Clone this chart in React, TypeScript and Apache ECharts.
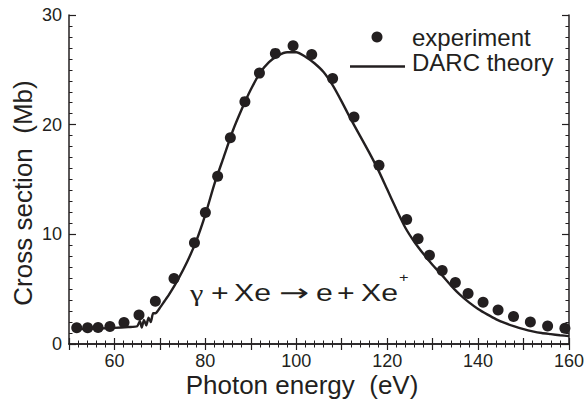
import React, { useEffect, useRef } from "react";
import * as echarts from "echarts";

// Experimental points (photon energy eV, cross section Mb)
const expEnergy = [51.7, 54.1, 56.4, 59.0, 62.1, 65.4, 69.0, 73.1, 77.6, 80.0, 82.7, 85.5, 88.7, 91.9, 95.4, 99.3, 103.4, 108.0, 112.7, 118.2, 124.3, 126.8, 129.3, 132.1, 135.0, 137.8, 141.1, 144.4, 147.8, 151.5, 155.3, 159.1];
const expCross = [1.48, 1.48, 1.5, 1.6, 1.97, 2.64, 3.9, 5.97, 9.24, 12.0, 15.3, 18.8, 22.1, 24.7, 26.5, 27.2, 26.4, 24.2, 20.7, 16.3, 11.36, 9.6, 8.1, 6.7, 5.6, 4.6, 3.8, 3.1, 2.5, 2.0, 1.64, 1.43];

// DARC theory curve
const thEnergy = [51, 54, 57, 60, 63, 65, 65.6, 66.0, 66.5, 67.0, 67.5, 68.0, 68.5, 69, 70, 71, 72, 74, 76, 78, 80, 82, 84, 86, 88, 90, 92, 94, 96, 98, 100, 102, 104, 106, 108, 110, 112, 114, 116, 118, 120, 122, 124, 126, 128, 130, 132, 134, 136, 138, 140, 142, 144, 146, 148, 150, 152, 154, 156, 158, 160];
const thCross = [1.35, 1.38, 1.42, 1.47, 1.55, 1.62, 2.1, 1.5, 2.2, 1.7, 2.4, 2.0, 2.8, 2.8, 3.3, 3.9, 4.5, 5.9, 7.5, 9.4, 11.8, 14.6, 17.0, 19.4, 21.4, 23.2, 24.7, 25.7, 26.3, 26.6, 26.6, 26.2, 25.6, 24.8, 23.6, 22.1, 20.5, 19.0, 17.5, 15.9, 14.1, 12.3, 10.6, 9.3, 8.2, 7.2, 6.3, 5.35, 4.5, 3.8, 3.2, 2.7, 2.25, 1.9, 1.6, 1.35, 1.15, 1.0, 0.9, 0.8, 0.72];

const xMin = 50;
const xMax = 160;
const yMin = 0;
const yMax = 30;

const seriesNames = ["experiment", "DARC theory"];
const xTitle = "Photon energy  (eV)";
const yTitle = "Cross section  (Mb)";

// reaction annotation: γ + Xe → e + Xe⁺
const reactionParts = ["γ", "+", "Xe", "→", "e", "+", "Xe"];
const reactionSup = "+";

const INK = "#231f20";
const SANS = "'Liberation Sans', Arial, sans-serif";
const SERIF = "'Liberation Serif', 'Times New Roman', serif";
const ARROWFONT = "'DejaVu Sans', sans-serif";

export default function App() {
  const ref = useRef<HTMLDivElement>(null);

  useEffect(() => {
    if (!ref.current) return;
    const chart = echarts.init(ref.current, undefined, { renderer: "svg" });

    const axisLine = { show: true, lineStyle: { color: INK, width: 1.5 } };
    const tickCommon = { show: true, inside: true, lineStyle: { color: INK, width: 1.2 } };

    const partX = [190, 211, 234, 279, 316, 337, 361];
    const partFont = [SERIF, SANS, SANS, ARROWFONT, SANS, SANS, SANS];
    const partScale = [1.26, 1.26, 1.26, 1.5, 1.26, 1.26, 1.26];

    const reaction = reactionParts.map((t, i) => ({
      type: "text",
      x: partX[i],
      y: 293,
      scaleX: partScale[i],
      style: {
        text: t,
        fontSize: 24,
        fontFamily: partFont[i],
        fill: INK,
        textAlign: "left",
        textVerticalAlign: "middle",
      },
    }));

    chart.setOption({
      animation: false,
      backgroundColor: "#ffffff",
      grid: { left: 69, right: 16, top: 15, bottom: 65, containLabel: false },
      xAxis: [
        {
          type: "value",
          min: xMin,
          max: xMax,
          interval: 10,
          axisLine,
          axisTick: { ...tickCommon, length: 6 },
          minorTick: { show: true, splitNumber: 5, length: 3.5, lineStyle: { color: INK, width: 1 } },
          splitLine: { show: false },
          axisLabel: {
            margin: 8,
            fontSize: 18,
            fontFamily: SANS,
            color: INK,
            showMinLabel: true,
            showMaxLabel: true,
            formatter: (v: number) => (v % 20 === 0 ? String(v) : ""),
          },
        },
        {
          type: "value",
          position: "top",
          min: xMin,
          max: xMax,
          interval: 10,
          axisLine,
          axisTick: { ...tickCommon, length: 6 },
          minorTick: { show: true, splitNumber: 5, length: 3.5, lineStyle: { color: INK, width: 1 } },
          splitLine: { show: false },
          axisLabel: { show: false },
        },
      ],
      yAxis: [
        {
          type: "value",
          min: yMin,
          max: yMax,
          interval: 10,
          axisLine,
          axisTick: { ...tickCommon, length: 7 },
          minorTick: { show: true, splitNumber: 10, length: 3.5, lineStyle: { color: INK, width: 1 } },
          splitLine: { show: false },
          axisLabel: { margin: 7, fontSize: 18, fontFamily: SANS, color: INK },
        },
        {
          type: "value",
          position: "right",
          min: yMin,
          max: yMax,
          interval: 10,
          axisLine,
          axisTick: { ...tickCommon, length: 7 },
          minorTick: { show: true, splitNumber: 10, length: 3.5, lineStyle: { color: INK, width: 1 } },
          splitLine: { show: false },
          axisLabel: { show: false },
        },
      ],
      series: [
        {
          name: seriesNames[1],
          type: "line",
          xAxisIndex: 0,
          yAxisIndex: 0,
          data: thEnergy.map((x, i) => [x, thCross[i]]),
          showSymbol: false,
          smooth: 0.2,
          lineStyle: { color: INK, width: 2.4 },
          z: 2,
        },
        {
          name: seriesNames[0],
          type: "scatter",
          xAxisIndex: 0,
          yAxisIndex: 0,
          data: expEnergy.map((x, i) => [x, expCross[i]]),
          symbol: "circle",
          symbolSize: 11,
          itemStyle: { color: INK, opacity: 1 },
          z: 3,
        },
      ],
      graphic: [
        // legend
        { type: "circle", shape: { cx: 377, cy: 37, r: 5.5 }, style: { fill: INK } },
        {
          type: "text",
          x: 412,
          y: 37.5,
          style: { text: seriesNames[0], fontSize: 24, fontFamily: SANS, fill: INK, textAlign: "left", textVerticalAlign: "middle" },
        },
        { type: "line", shape: { x1: 350, y1: 66.5, x2: 405, y2: 66.5 }, style: { stroke: INK, lineWidth: 2.4 } },
        {
          type: "text",
          x: 412,
          y: 62,
          style: { text: seriesNames[1], fontSize: 24, fontFamily: SANS, fill: INK, textAlign: "left", textVerticalAlign: "middle" },
        },
        // axis titles
        {
          type: "text",
          x: 302,
          y: 385,
          style: { text: xTitle, fontSize: 26, fontFamily: SANS, fill: INK, textAlign: "center", textVerticalAlign: "middle" },
        },
        {
          type: "text",
          x: 23,
          y: 193,
          rotation: Math.PI / 2,
          style: { text: yTitle, fontSize: 26, fontFamily: SANS, fill: INK, textAlign: "center", textVerticalAlign: "middle" },
        },
        // reaction annotation
        ...reaction,
        {
          type: "text",
          x: 399,
          y: 278,
          scaleX: 1.26,
          style: { text: reactionSup, fontSize: 13, fontFamily: SANS, fill: INK, textAlign: "left", textVerticalAlign: "middle" },
        },
      ],
    });

    return () => chart.dispose();
  }, []);

  return (
    <div
      ref={ref}
      style={{ position: "fixed", left: 0, top: 0, width: 587, height: 409 }}
    />
  );
}
